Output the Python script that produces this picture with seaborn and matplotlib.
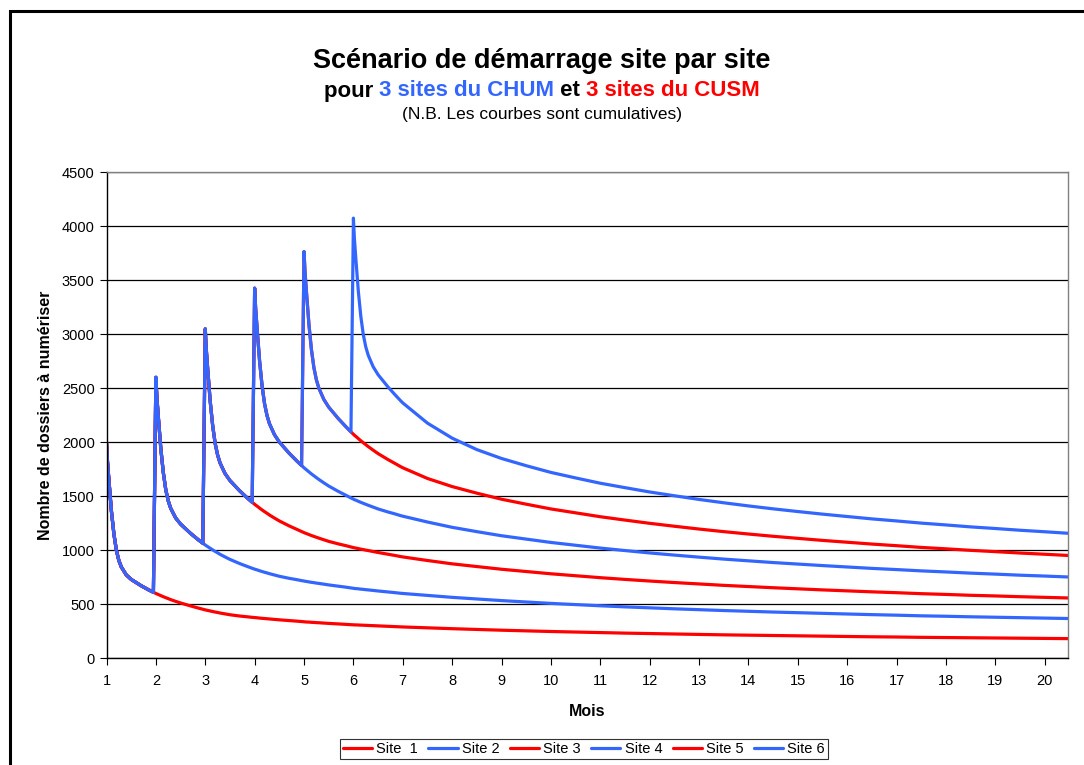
import numpy as np
import pandas as pd
import matplotlib
matplotlib.use("Agg")
import matplotlib.pyplot as plt
import seaborn as sns

# Site 1 curve (one site alone); the other curves are cumulative
MOIS = [1.0, 1.02, 1.05, 1.1, 1.15, 1.2, 1.25, 1.3, 1.4, 1.5, 1.7, 1.85, 1.95,
        2.0, 2.02, 2.05, 2.1, 2.15, 2.2, 2.25, 2.3, 2.4, 2.5, 2.7, 2.85, 2.95,
        3.0, 3.02, 3.05, 3.1, 3.15, 3.2, 3.25, 3.3, 3.4, 3.5, 3.7, 3.85, 3.95,
        4.0, 4.02, 4.05, 4.1, 4.15, 4.2, 4.25, 4.3, 4.4, 4.5, 4.7, 4.85, 4.95,
        5.0, 5.02, 5.05, 5.1, 5.15, 5.2, 5.25, 5.3, 5.4, 5.5, 5.7, 5.85, 5.95,
        6.0, 6.02, 6.05, 6.1, 6.15, 6.2, 6.25, 6.3, 6.4, 6.5, 6.7, 6.85, 6.95,
        7.0, 7.5, 8.0, 8.5, 9.0, 9.5, 10.0, 10.5, 11.0, 11.5, 12.0,
        12.5, 13.0, 13.5, 14.0, 14.5, 15.0, 15.5, 16.0, 16.5, 17.0, 17.5,
        18.0, 18.5, 19.0, 19.5, 20.0, 20.5]
SITE1 = [2000, 1820, 1640, 1360, 1150, 1000, 905, 845, 772, 730, 672, 634, 611,
         600, 596, 590, 580, 570, 561, 552, 543, 527, 512, 485, 466, 454,
         448, 446, 443, 438, 433, 428, 424, 419, 411, 403, 391, 384, 379,
         377, 376, 375, 372, 370, 368, 366, 364, 360, 356, 349, 344, 340,
         338, 337, 336, 335, 333, 332, 330, 329, 326, 323, 318, 314, 311,
         310, 309, 309, 308, 307, 306, 305, 304, 302, 300, 296, 293, 291,
         290, 282, 274, 267, 260, 254, 248, 243, 238, 233, 229,
         225, 221, 217, 214, 211, 208, 205, 202, 199, 197, 194,
         192, 190, 188, 186, 184, 182]

SITES = ["Site  1", "Site 2", "Site 3", "Site 4", "Site 5", "Site 6"]
DEBUT = [1, 2, 3, 4, 5, 6]  # mois de démarrage de chaque site
COULEURS = ["#FF0000", "#3366FF", "#FF0000", "#3366FF", "#FF0000", "#3366FF"]
Y_TICKS = list(range(0, 4501, 500))
X_TICKS = list(range(1, 21))

BLEU = "#3366FF"
ROUGE = "#FF0000"

# cumulative curves: each site adds the same profile, shifted to its start month
profil = {float(round(m, 2)): v for m, v in zip(MOIS, SITE1)}
rows = []
for i, site in enumerate(SITES):
    for m in MOIS:
        total = sum(profil[float(round(m - d + 1, 2))] for d in DEBUT[:i + 1] if m >= d)
        rows.append({"Mois": m, "Dossiers": total, "Site": site})
df = pd.DataFrame(rows)

sns.set_style("white")
plt.rcParams["font.family"] = ["Liberation Sans", "DejaVu Sans"]
plt.rcParams["text.color"] = "black"
plt.rcParams["axes.labelcolor"] = "black"

fig = plt.figure(figsize=(10.84, 7.65), dpi=100)
ax = fig.add_axes([106.5 / 1084, 1 - 658.3 / 765, (1068 - 106.5) / 1084, (658.3 - 172) / 765])

sns.lineplot(data=df, x="Mois", y="Dossiers", hue="Site", hue_order=SITES,
             palette=dict(zip(SITES, COULEURS)), estimator=None, sort=False,
             linewidth=2.3, ax=ax, legend=False)

ax.set_xlim(1, 20.47)
ax.set_ylim(0, 4500)
ax.set_xticks(X_TICKS)
ax.set_yticks(Y_TICKS)
ax.tick_params(axis="both", labelsize=10.5, direction="out", length=5, width=0.8,
               colors="black", left=True, bottom=True)
ax.tick_params(axis="x", pad=6)
ax.yaxis.grid(True, color="black", linewidth=0.9)
ax.xaxis.grid(False)
for side in ["left", "bottom"]:
    ax.spines[side].set_color("black")
    ax.spines[side].set_linewidth(1.0)
for side in ["right", "top"]:
    ax.spines[side].set_color("#808080")
    ax.spines[side].set_linewidth(1.0)
ax.set_xlabel("Mois", fontsize=11.5, fontweight="bold", labelpad=12)
ax.set_ylabel("Nombre de dossiers à numériser", fontsize=11.5, fontweight="bold", labelpad=6)

# legend
handles = [plt.Line2D([], [], color=c, linewidth=2.3) for c in COULEURS]
leg = fig.legend(handles, SITES, loc="center", bbox_to_anchor=(584 / 1084, 1 - 749 / 765),
                 ncol=6, fontsize=10.5, frameon=True, fancybox=False, handlelength=2.0,
                 handletextpad=0.3, columnspacing=0.7, borderpad=0.2, borderaxespad=0)
leg.get_frame().set_edgecolor("black")
leg.get_frame().set_linewidth(0.8)

# titles
fig.text(0.5, 1 - 61 / 765, "Scénario de démarrage site par site", ha="center", va="center",
         fontsize=19.5, fontweight="bold")
pieces = [("pour ", "black"), ("3 sites du CHUM", BLEU), (" et ", "black"), ("3 sites du CUSM", ROUGE)]
renderer = fig.canvas.get_renderer()
texts = [fig.text(0, 1 - 91 / 765, p, color=c, fontsize=16, fontweight="bold", va="center")
         for p, c in pieces]
widths = [t.get_window_extent(renderer).width / fig.bbox.width for t in texts]
x0 = 0.5 - sum(widths) / 2
for t, w in zip(texts, widths):
    t.set_x(x0)
    x0 += w
fig.text(0.5, 1 - 115 / 765, "(N.B. Les courbes sont cumulatives)", ha="center", va="center",
         fontsize=12.5)

# outer frame (cut by the image edge on the right and bottom)
fig.add_artist(plt.Rectangle((10 / 1084, -0.2), 1.2, 1.2 - 11 / 765, transform=fig.transFigure,
                             fill=False, edgecolor="black", linewidth=2.2))

fig.savefig("out.png", dpi=100)
